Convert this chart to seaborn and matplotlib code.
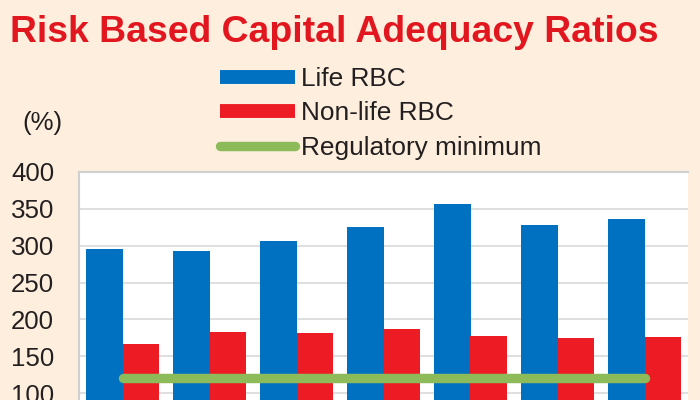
import numpy as np
import pandas as pd
import matplotlib
matplotlib.use("Agg")
import matplotlib.pyplot as plt
from matplotlib.lines import Line2D
import seaborn as sns

# ---- data ----
categories = ["1", "2", "3", "4", "5", "6", "7"]
life_rbc = [296, 293, 307, 326, 357, 328, 336]
nonlife_rbc = [166, 183, 181, 187, 178, 174, 176]
reg_min = [120, 120, 120, 120, 120, 120, 120]
yticks = [100, 150, 200, 250, 300, 350, 400]

BG = "#FDEEDD"
BLUE = "#0070C0"
RED = "#ED1C24"
GREEN = "#8DBB5A"
TITLE_RED = "#E2161F"

sns.set_theme(style="white")
plt.rcParams["font.family"] = ["Liberation Sans", "DejaVu Sans"]

df = pd.DataFrame({
    "cat": categories * 2,
    "val": life_rbc + nonlife_rbc,
    "series": ["Life RBC"] * len(categories) + ["Non-life RBC"] * len(categories),
})

fig = plt.figure(figsize=(7, 4), dpi=100, facecolor=BG)
ax = fig.add_axes([79 / 700, 0.0, (688 - 79) / 700, 1 - 172 / 400])
ax.set_facecolor("white")

sns.barplot(data=df, x="cat", y="val", hue="series", order=categories,
            palette=[BLUE, RED], width=0.83, gap=0, saturation=1,
            edgecolor="none", linewidth=0, ax=ax, legend=False, zorder=2)

sns.lineplot(x=np.arange(len(categories)), y=reg_min, color=GREEN,
             linewidth=6.8, solid_capstyle="round", ax=ax, zorder=3)

ax.set_ylim(90.5, 400)
ax.set_xlim(-0.5, len(categories) - 0.5)
ax.set_yticks(yticks)
ax.set_yticklabels([str(t) for t in yticks], fontsize=18.6, color="#231F20")
ax.tick_params(axis="y", length=0, pad=18)
ax.set_xticks([])
ax.set_xlabel("")
ax.set_ylabel("")
ax.yaxis.grid(True, color="#D9D9D9", linewidth=1.2, zorder=0)
ax.set_axisbelow(True)
for s in ["left", "top"]:
    ax.spines[s].set_visible(True)
    ax.spines[s].set_color("#D0D0D0")
    ax.spines[s].set_linewidth(1.5)
for s in ["right", "bottom"]:
    ax.spines[s].set_visible(False)

# title
fig.text(10 / 700, 1 - 42 / 400, "Risk Based Capital Adequacy Ratios",
         fontsize=26.9, fontweight="bold", color=TITLE_RED,
         ha="left", va="baseline")

# (%)
fig.text(22 / 700, 1 - 123 / 400, "(%)", fontsize=18.6, color="#231F20",
         ha="left", va="center")

# legend
handles = [
    Line2D([0], [0], color=BLUE, linewidth=10, solid_capstyle="butt"),
    Line2D([0], [0], color=RED, linewidth=10, solid_capstyle="butt"),
    Line2D([0], [0], color=GREEN, linewidth=6.8, solid_capstyle="round"),
]
labels = ["Life RBC", "Non-life RBC", "Regulatory minimum"]
leg = fig.legend(handles, labels, loc="upper left",
                 bbox_to_anchor=(220 / 700, 1 - 67 / 400),
                 frameon=False, fontsize=18.9, handlelength=2.85,
                 handletextpad=0.25, labelspacing=0.4, borderaxespad=0,
                 borderpad=0)
for t in leg.get_texts():
    t.set_color("#231F20")

fig.savefig("out.png", dpi=100, facecolor=BG)
